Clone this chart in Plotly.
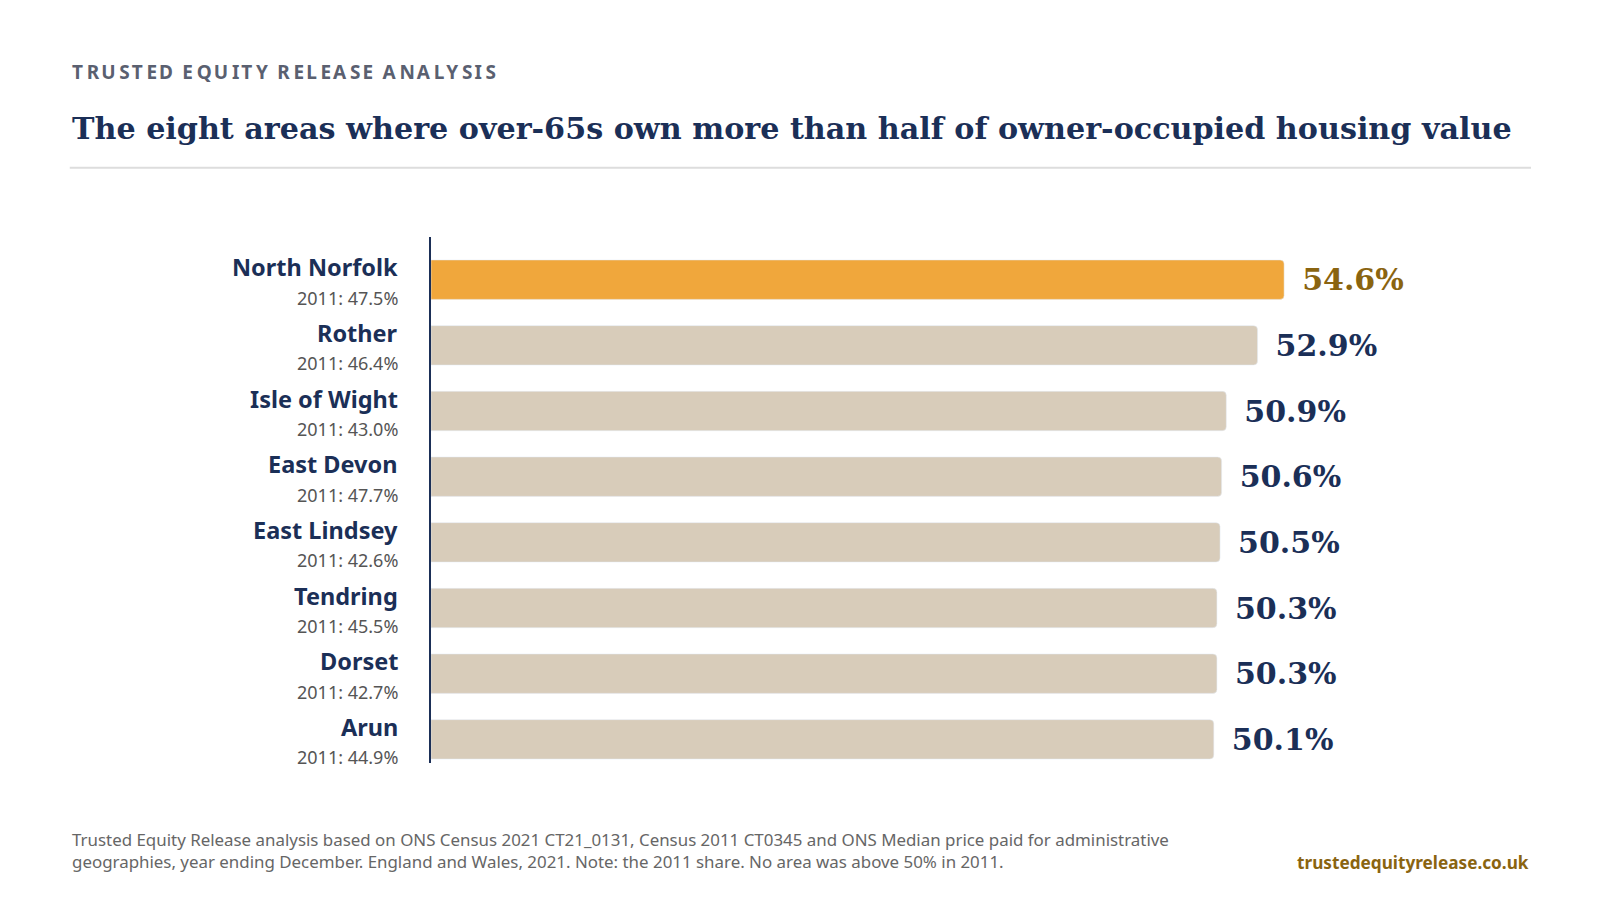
import plotly.graph_objects as go

areas = ["North Norfolk", "Rother", "Isle of Wight", "East Devon",
         "East Lindsey", "Tendring", "Dorset", "Arun"]
share_2021 = [54.6, 52.9, 50.9, 50.6, 50.5, 50.3, 50.3, 50.1]
share_2011 = [47.5, 46.4, 43.0, 47.7, 42.6, 45.5, 42.7, 44.9]

NAVY = "#1b2f57"
GOLD_TEXT = "#8a6410"
W, H = 1600, 900
S = 1600 / 1568  # layout measured on a 1568-wide capture

bar_colors = ["#F0A73C"] + ["#D8CCBA"] * (len(areas) - 1)
text_colors = [GOLD_TEXT] + [NAVY] * (len(areas) - 1)

fig = go.Figure(go.Bar(
    x=share_2021, y=areas, orientation="h",
    marker=dict(color=bar_colors, cornerradius=4),
    width=0.6,
    text=[f"\u2002<b>{v:.1f}%</b>" for v in share_2021],
    textposition="outside",
    textfont=dict(family="DejaVu Serif", size=30, color=text_colors),
    cliponaxis=False,
    hoverinfo="skip",
))

# left-hand category labels with 2011 share underneath
for a, s in zip(areas, share_2011):
    fig.add_annotation(
        x=0, y=a, xref="x", yref="y", xanchor="right", yanchor="middle",
        xshift=-30 * S, yshift=12 * S, showarrow=False,
        text=f"<b>{a}</b>",
        font=dict(family="Noto Sans", size=23.5, color=NAVY),
    )
    fig.add_annotation(
        x=0, y=a, xref="x", yref="y", xanchor="right", yanchor="middle",
        xshift=-30 * S, yshift=-17.5 * S, showarrow=False,
        text=f"2011: {s:.1f}%",
        font=dict(family="Noto Sans", size=18, color="#555555"),
    )

left, right, top, bottom = 422 * S, 1500 * S, 232 * S, 748 * S
fig.update_layout(
    width=W, height=H,
    paper_bgcolor="white", plot_bgcolor="white",
    margin=dict(l=left, r=W - right, t=top, b=H - bottom),
    showlegend=False,
    xaxis=dict(range=[0, 70.4], visible=False, fixedrange=True),
    yaxis=dict(range=[len(areas) - 0.64, -0.65], showticklabels=False, showgrid=False,
               showline=True, linecolor=NAVY, linewidth=2, ticks=""),
)

# measured pixel -> paper (plot area) coordinates
def px_x(x):
    return (x * S - left) / (right - left)

def px_y(y):
    return (bottom - y * S) / (bottom - top)

def spaced(word):
    out = word[0]
    for i, ch in enumerate(word[1:]):
        out += ("\u200a\u200a" if i % 2 == 0 else "\u200a") + ch
    return out

kicker = "\u2002".join(spaced(w) for w in "TRUSTED EQUITY RELEASE ANALYSIS".split())
fig.add_annotation(x=px_x(68), y=px_y(70), xref="paper", yref="paper",
                   xanchor="left", yanchor="middle", showarrow=False,
                   text=f"<b>{kicker}</b>",
                   font=dict(family="Noto Sans", size=19, color="#5a6070"))
fig.add_annotation(x=px_x(68), y=px_y(126), xref="paper", yref="paper",
                   xanchor="left", yanchor="middle", showarrow=False,
                   text="<b>The eight areas where over-65s own more than half of owner-occupied housing value</b>",
                   font=dict(family="DejaVu Serif", size=30.2, color=NAVY))
fig.add_shape(type="line", xref="paper", yref="paper",
              x0=px_x(68), x1=px_x(1500), y0=px_y(164), y1=px_y(164),
              line=dict(color="#dddddd", width=2))
fig.add_annotation(x=px_x(68), y=px_y(834), xref="paper", yref="paper",
                   xanchor="left", yanchor="middle", showarrow=False, align="left",
                   text="Trusted Equity Release analysis based on ONS Census 2021 CT21_0131, Census 2011 CT0345 and ONS Median price paid for administrative<br>"
                        "geographies, year ending December. England and Wales, 2021. Note: the 2011 share. No area was above 50% in 2011.",
                   font=dict(family="Noto Sans", size=16.9, color="#666666"))
fig.add_annotation(x=px_x(1500), y=px_y(846), xref="paper", yref="paper",
                   xanchor="right", yanchor="middle", showarrow=False,
                   text="<b>trustedequityrelease.co.uk</b>",
                   font=dict(family="Noto Sans", size=17.2, color=GOLD_TEXT))

fig.write_html("out.html", config={"displayModeBar": False})

# drop the default body margin so the 1600px figure fits the window
with open("out.html", encoding="utf-8") as f:
    page = f.read()
page = page.replace("<body>", "<body style=\"margin:0;overflow:hidden\">", 1)
with open("out.html", "w", encoding="utf-8") as f:
    f.write(page)
